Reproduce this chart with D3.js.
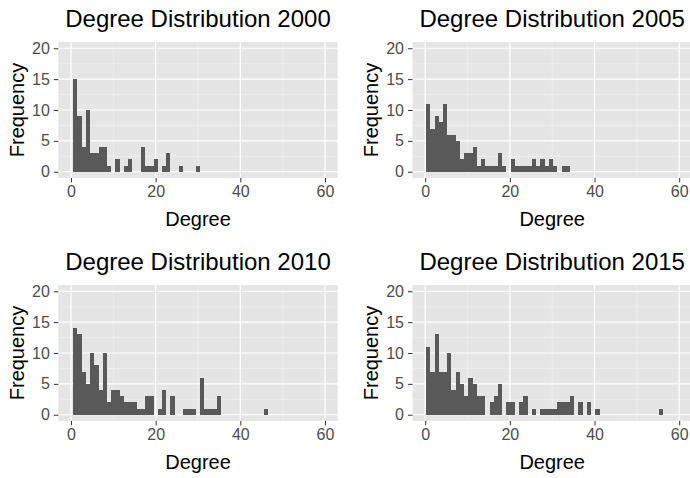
<!DOCTYPE html>
<html>
<head>
<meta charset="utf-8">
<script src="https://cdn.jsdelivr.net/npm/d3@7"></script>
<style>
  body { margin: 0; background: #fff; }
  svg { display: block; }
  text { font-family: "Liberation Sans", Arial, sans-serif; }
</style>
</head>
<body>
<div id="chart"></div>
<script>
// counts per unit-width degree bin, first bin starts at binStart
const years = [2000, 2005, 2010, 2015];
const counts2000 = [15, 9, 4, 10, 3, 3, 4, 4, 1, 0, 2, 0, 1, 2, 0, 0, 4, 1, 1, 2, 0, 1, 3, 0, 0, 1, 0, 0, 0, 1];
const counts2005 = [11, 7, 9, 8, 11, 6, 6, 5, 2, 3, 3, 4, 1, 2, 1, 1, 1, 3, 1, 0, 2, 1, 1, 1, 1, 2, 1, 2, 1, 2, 1, 0, 1, 1];
const counts2010 = [14, 13, 7, 5, 10, 8, 4, 10, 2, 4, 4, 3, 2, 2, 2, 1, 1, 3, 3, 0, 1, 4, 0, 3, 0, 0, 1, 1, 1, 0,
  6, 1, 1, 1, 3, 0, 0, 0, 0, 0, 0, 0, 0, 0, 0, 1];
const counts2015 = [11, 7, 13, 7, 7, 10, 4, 7, 5, 3, 6, 5, 3, 3, 0, 2, 3, 5, 0, 2, 2, 0, 2, 3, 0, 1, 0, 1, 1, 1,
  1, 2, 2, 2, 3, 0, 2, 0, 2, 0, 1, 0, 0, 0, 0, 0, 0, 0, 0, 0, 0, 0, 0, 0, 0, 1];
const binStart = [0.5, 0.2, 0.5, 0.2];
const xTicks = [0, 20, 40, 60];
const xMinor = [10, 30, 50];
const yTicks = [0, 5, 10, 15, 20];
const yMinor = [2.5, 7.5, 12.5, 17.5];

const allCounts = [counts2000, counts2005, counts2010, counts2015];

const W = 690, H = 478;
const pw = 279.4, ph = 135.8;
const cols = [58.3, 412.5];
const rows = [42.1, 285.1];

const svg = d3.select('#chart')
  .append('svg')
  .attr('width', W)
  .attr('height', H);

const x = d3.scaleLinear().domain([-3, 63]).range([0, pw]);
const y = d3.scaleLinear().domain([-1, 21]).range([ph, 0]);

years.forEach((year, i) => {
  const left = cols[i % 2];
  const top = rows[Math.floor(i / 2)];
  const g = svg.append('g').attr('transform', `translate(${left}, ${top})`);

  // panel background
  g.append('rect')
    .attr('width', pw)
    .attr('height', ph)
    .attr('fill', '#e5e5e5');

  // minor grid
  g.selectAll('.minx').data(xMinor).enter().append('line')
    .attr('x1', d => x(d)).attr('x2', d => x(d))
    .attr('y1', 0).attr('y2', ph)
    .attr('stroke', '#f2f2f2').attr('stroke-width', 0.6);
  g.selectAll('.miny').data(yMinor).enter().append('line')
    .attr('y1', d => y(d)).attr('y2', d => y(d))
    .attr('x1', 0).attr('x2', pw)
    .attr('stroke', '#f2f2f2').attr('stroke-width', 0.6);

  // major grid
  g.selectAll('.majx').data(xTicks).enter().append('line')
    .attr('x1', d => x(d)).attr('x2', d => x(d))
    .attr('y1', 0).attr('y2', ph)
    .attr('stroke', '#fff').attr('stroke-width', 1.2);
  g.selectAll('.majy').data(yTicks).enter().append('line')
    .attr('y1', d => y(d)).attr('y2', d => y(d))
    .attr('x1', 0).attr('x2', pw)
    .attr('stroke', '#fff').attr('stroke-width', 1.2);

  // bars
  const bins = allCounts[i].map((c, k) => ({ x0: binStart[i] + k, count: c }))
    .filter(d => d.count > 0);
  g.selectAll('.bar').data(bins).enter().append('rect')
    .attr('x', d => x(d.x0))
    .attr('width', d => x(d.x0 + 1) - x(d.x0))
    .attr('y', d => y(d.count))
    .attr('height', d => y(0) - y(d.count))
    .attr('fill', '#595959')
    .attr('shape-rendering', 'crispEdges');

  // axes
  const xAxis = g.append('g')
    .attr('transform', `translate(0, ${ph})`)
    .call(d3.axisBottom(x).tickValues(xTicks).tickSize(4.5).tickPadding(3));
  const yAxis = g.append('g')
    .call(d3.axisLeft(y).tickValues(yTicks).tickSize(4.5).tickPadding(4));
  [xAxis, yAxis].forEach(a => {
    a.select('.domain').remove();
    a.selectAll('.tick line').attr('stroke', '#333').attr('stroke-width', 1);
    a.selectAll('.tick text')
      .attr('fill', '#4d4d4d')
      .style('font-size', '16px');
  });

  // title
  g.append('text')
    .attr('x', pw / 2)
    .attr('y', -15)
    .attr('text-anchor', 'middle')
    .style('font-size', '24px')
    .attr('fill', '#000')
    .text(`Degree Distribution ${year}`);

  // axis titles
  g.append('text')
    .attr('x', pw / 2)
    .attr('y', ph + 48)
    .attr('text-anchor', 'middle')
    .style('font-size', '20px')
    .text('Degree');

  g.append('text')
    .attr('transform', `translate(-34.5, ${ph / 2}) rotate(-90)`)
    .attr('text-anchor', 'middle')
    .style('font-size', '20px')
    .text('Frequency');
});
</script>
</body>
</html>
